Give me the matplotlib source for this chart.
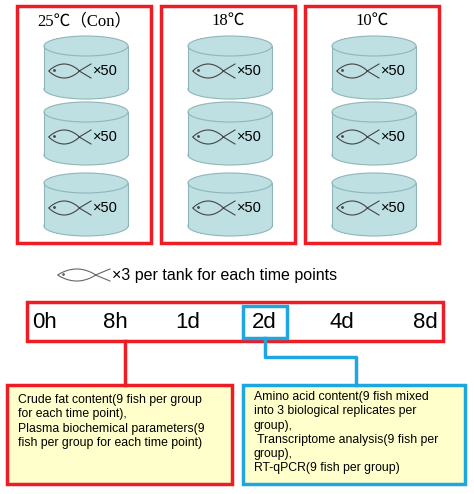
import matplotlib
matplotlib.use("Agg")
import matplotlib.pyplot as plt
import numpy as np
from matplotlib.patches import Rectangle, Ellipse

groups = ["25℃（Con）", "18℃", "10℃"]
fish_per_tank = "×50"
time_points = ["0h", "8h", "1d", "2d", "4d", "8d"]
legend_text = "×3 per tank for each time points"
left_text = ("Crude fat content(9 fish per group\nfor each time point),\n"
             "Plasma biochemical parameters(9\nfish per group for each time point)")
right_text = ("Amino acid content(9 fish mixed\ninto 3 biological replicates per\ngroup),\n"
              " Transcriptome analysis(9 fish per\ngroup),\nRT-qPCR(9 fish per group)")

RED = "#EE1C25"; BLUE = "#1EA6E0"; TANK = "#BFE0E3"; TEDGE = "#8FB5B8"; YEL = "#FFFFCC"

fig = plt.figure(figsize=(4.74, 4.94), dpi=100)
ax = fig.add_axes([0, 0, 1, 1])
ax.set_xlim(0, 474); ax.set_ylim(494, 0); ax.axis("off")

def fish(x0, y0, w=40, h=7, c="#444444", lw=0.8):
    xc = x0 + w * 0.72
    t = np.linspace(0, 1, 40)
    xs = x0 + (xc - x0) * t
    ax.plot(xs, y0 - h * np.sin(np.pi * t) ** 0.8, color=c, lw=lw)
    ax.plot(xs, y0 + h * np.sin(np.pi * t) ** 0.8, color=c, lw=lw)
    ax.plot([xc, x0 + w], [y0, y0 - h], color=c, lw=lw)
    ax.plot([xc, x0 + w], [y0, y0 + h], color=c, lw=lw)
    ax.plot(x0 + 5, y0 - 1, "o", ms=1, color=c)

box_x = [17, 161, 305]
tank_tops = [46, 112, 183]
for gi, g in enumerate(groups):
    bx = box_x[gi]
    ax.add_patch(Rectangle((bx, 6), 134, 237, fill=False, ec=RED, lw=2.5))
    ax.text(bx + 67, 21, g, ha="center", va="center", fontsize=12,
            family=["Liberation Serif", "Noto Sans CJK SC"])
    cx = bx + 69
    for ty in tank_tops:
        w, eh, hgt = 84, 20, 43
        ax.add_patch(Ellipse((cx, ty + hgt), w, eh, fc=TANK, ec=TEDGE, lw=0.8))
        ax.add_patch(Rectangle((cx - w/2, ty), w, hgt, fc=TANK, ec="none"))
        ax.plot([cx - w/2, cx - w/2], [ty, ty + hgt], color=TEDGE, lw=0.8)
        ax.plot([cx + w/2, cx + w/2], [ty, ty + hgt], color=TEDGE, lw=0.8)
        ax.add_patch(Ellipse((cx, ty), w, eh, fc=TANK, ec=TEDGE, lw=0.8))
        fish(cx - 37, ty + 25, w=42, h=7)
        ax.text(cx + 7, ty + 25, fish_per_tank, ha="left", va="center", fontsize=10.5,
                family="Liberation Sans")

fish(58, 275, w=52, h=6, c="#666666")
ax.text(112, 275, legend_text, ha="left", va="center", fontsize=11.5, family="Liberation Sans")

ax.add_patch(Rectangle((27, 302), 416, 39, fill=False, ec=RED, lw=2.5))
tx = [45, 115, 188, 264, 342, 425]
for x, s in zip(tx, time_points):
    ax.text(x, 322, s, ha="center", va="center", fontsize=16, family="Liberation Sans")
ax.add_patch(Rectangle((243, 306), 44, 32, fill=False, ec=BLUE, lw=2.5))

ax.plot([125, 125], [341, 385], color=RED, lw=2.5)
ax.plot([265, 265, 356, 356], [338, 357, 357, 385], color=BLUE, lw=2.5)

ax.add_patch(Rectangle((7, 385), 225, 99, fc=YEL, ec=RED, lw=2.5))
ax.add_patch(Rectangle((243, 385), 222, 99, fc=YEL, ec=BLUE, lw=2.5))
ax.text(18, 394, left_text, ha="left", va="top", fontsize=8.8, linespacing=1.25,
        family="Liberation Sans")
ax.text(254, 391, right_text, ha="left", va="top", fontsize=8.8, linespacing=1.25,
        family="Liberation Sans")

fig.savefig("out.png", dpi=100)
